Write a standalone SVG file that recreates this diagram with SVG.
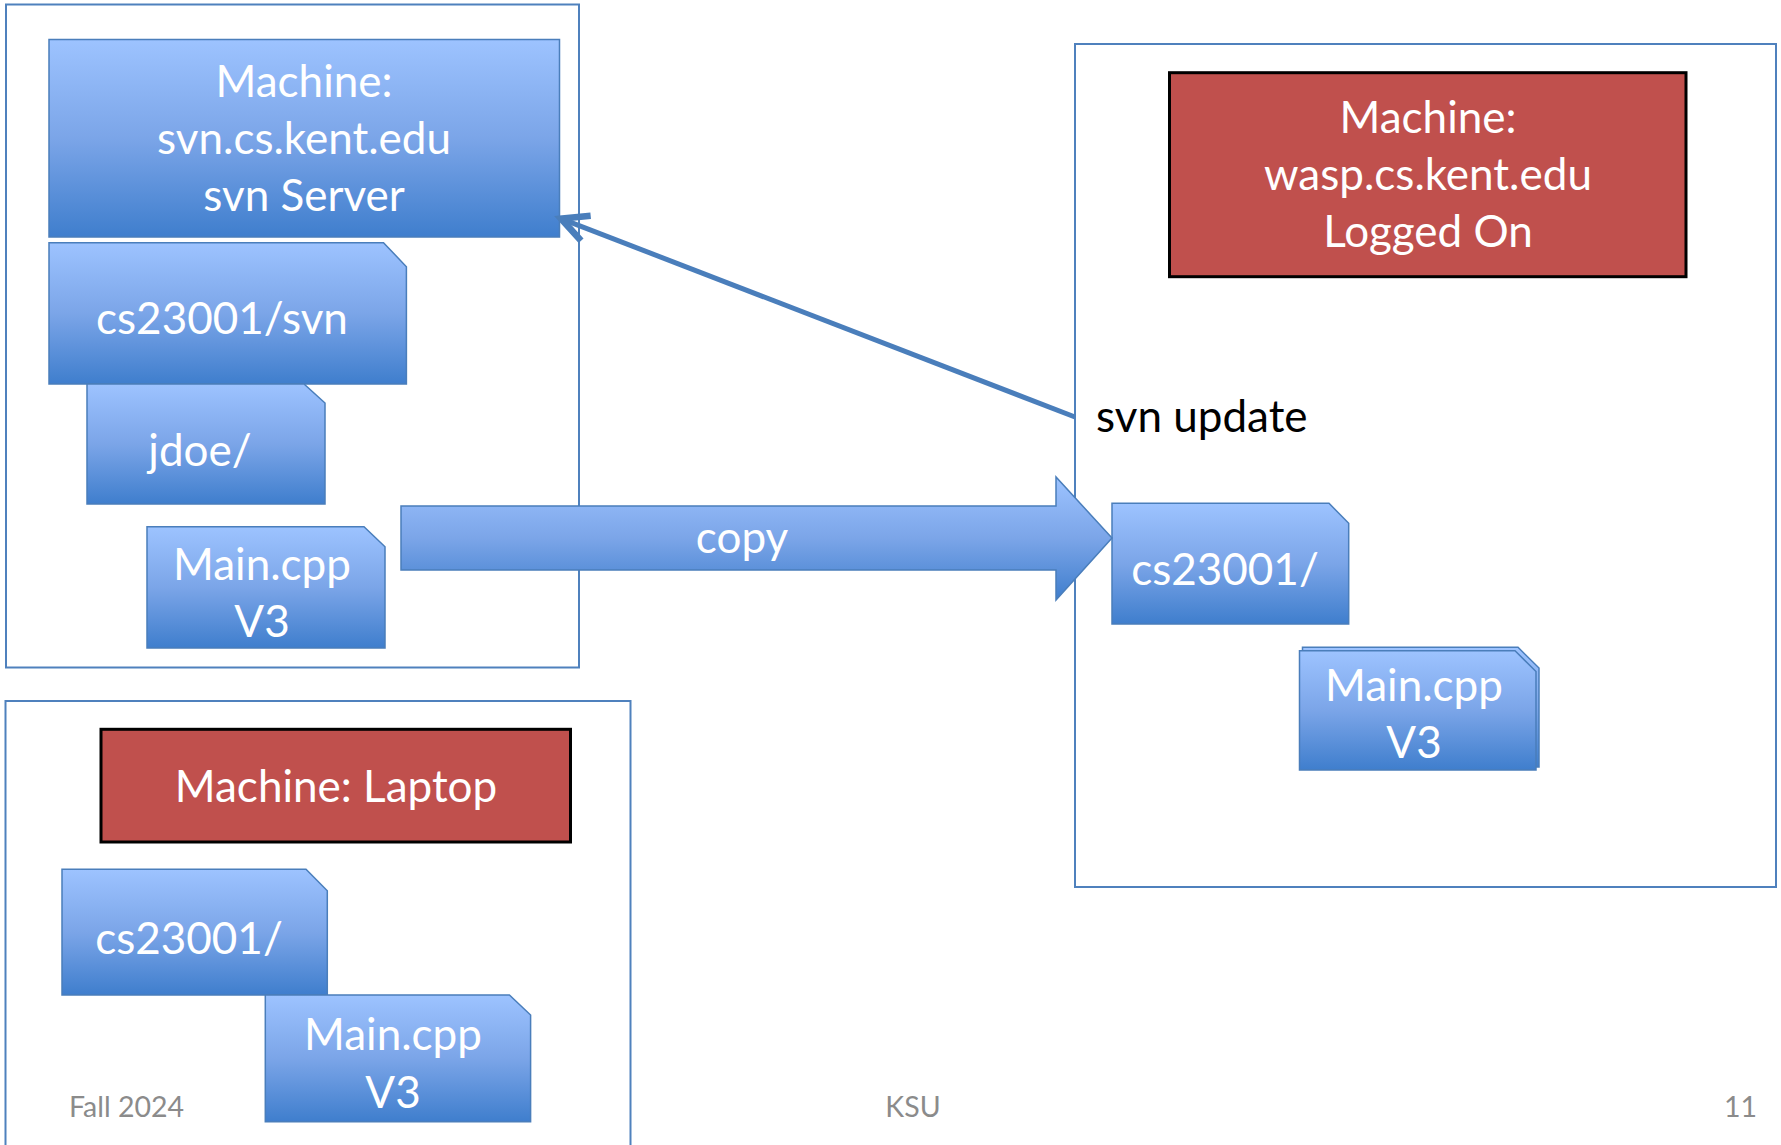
<svg xmlns="http://www.w3.org/2000/svg" width="1781" height="1145" viewBox="0 0 1781 1145">
  <defs>
    <linearGradient id="blue" x1="0" y1="0" x2="0" y2="1">
      <stop offset="0" stop-color="#9DC3FF"/>
      <stop offset="0.5" stop-color="#7BA5E8"/>
      <stop offset="1" stop-color="#3F7ECD"/>
    </linearGradient>
    <marker id="open" markerUnits="userSpaceOnUse" markerWidth="40" markerHeight="40" viewBox="-24 -14 30 28" refX="0" refY="0" orient="auto">
      <path d="M -20 -10 L 0 0 L -20 10" fill="none" stroke="#4A7EBB" stroke-width="5" stroke-linejoin="miter"/>
    </marker>
    <style>
      .frame { fill: none; stroke: #4F81BD; stroke-width: 2; }
      .fold { fill: url(#blue); stroke: #4A7EBB; stroke-width: 1.5; }
      .red { fill: #C0504D; stroke: #000; stroke-width: 3; }
      .lbl { font-family: Lato, "Open Sans", sans-serif; font-size: 44px; fill: #fff; text-anchor: middle; }
      .plain { font-family: Lato, "Open Sans", sans-serif; font-size: 44px; fill: #000; }
      .foot { font-family: Lato, "Open Sans", sans-serif; font-size: 28.5px; fill: #8B8B8B; }
    </style>
  </defs>

  <rect width="1781" height="1145" fill="#fff"/>

  <!-- machine frames -->
  <g id="frame-server"><rect class="frame" x="6" y="4.5" width="573" height="663"/></g>
  <g id="frame-wasp"><rect class="frame" x="1075" y="44" width="701" height="843"/></g>
  <g id="frame-laptop"><rect class="frame" x="5.5" y="701" width="625" height="460"/></g>

  <!-- svn server -->
  <g id="svn-server">
    <rect class="fold" x="49" y="39.5" width="510.5" height="197.5"/>
    <text class="lbl" x="304" y="97">Machine:</text>
    <text class="lbl" x="304" y="154">svn.cs.kent.edu</text>
    <text class="lbl" x="304" y="211">svn Server</text>
  </g>
  <g id="repo">
    <path class="fold" d="M49 242.7 H383.5 L406.4 266.7 V384 H49 Z"/>
    <text class="lbl" x="222" y="334">cs23001/svn</text>
  </g>
  <g id="repo-jdoe">
    <path class="fold" d="M87 384 H304 L325 403 V504 H87 Z"/>
    <text class="lbl" x="200" y="466">jdoe/</text>
  </g>
  <g id="repo-main">
    <path class="fold" d="M147 526.7 H364 L385 546.7 V648 H147 Z"/>
    <text class="lbl" x="262" y="580">Main.cpp</text>
    <text class="lbl" x="262" y="637">V3</text>
  </g>

  <!-- wasp -->
  <g id="wasp">
    <rect class="red" x="1169.5" y="72.7" width="516.5" height="204"/>
    <text class="lbl" x="1428" y="132.7">Machine:</text>
    <text class="lbl" x="1428" y="190">wasp.cs.kent.edu</text>
    <text class="lbl" x="1428" y="247.3">Logged On</text>
  </g>
  <g id="wasp-dir">
    <path class="fold" d="M1112 503.3 H1329 L1348.7 523.3 V624 H1112 Z"/>
    <text class="lbl" x="1225" y="585">cs23001/</text>
  </g>
  <g id="wasp-main">
    <path class="fold" d="M1302.5 647.3 H1518 L1539 668 V767 H1302.5 Z"/>
    <path class="fold" d="M1299.5 650.7 H1515 L1536 671.5 V770 H1299.5 Z"/>
    <text class="lbl" x="1414" y="700.7">Main.cpp</text>
    <text class="lbl" x="1414" y="757.7">V3</text>
  </g>
  <g id="svn-update-label">
    <text class="plain" x="1096" y="431.7">svn update</text>
  </g>

  <!-- laptop -->
  <g id="laptop">
    <rect class="red" x="101" y="729.3" width="469.5" height="112.7"/>
    <text class="lbl" x="336" y="801.7">Machine: Laptop</text>
  </g>
  <g id="laptop-dir">
    <path class="fold" d="M62 869.3 H306 L327.3 890.7 V995 H62 Z"/>
    <text class="lbl" x="189" y="954">cs23001/</text>
  </g>
  <g id="laptop-main">
    <path class="fold" d="M265.3 995 H509.4 L530.6 1015 V1121.7 H265.3 Z"/>
    <text class="lbl" x="393" y="1050">Main.cpp</text>
    <text class="lbl" x="393" y="1107.7">V3</text>
  </g>

  <!-- connectors -->
  <g id="connectors">
    <line x1="1075" y1="417" x2="561" y2="218.6" stroke="#4A7EBB" stroke-width="5" marker-end="url(#open)"/>
    <g id="copy-arrow">
      <path class="fold" d="M401 506 H1056 V477 L1112 538 L1056 600 V570 H401 Z"/>
      <text class="lbl" x="742" y="553">copy</text>
    </g>
  </g>

  <!-- footer -->
  <g id="footer">
    <text class="foot" x="69" y="1116.7">Fall 2024</text>
    <text class="foot" x="913" y="1116.7" text-anchor="middle">KSU</text>
    <text class="foot" x="1757" y="1116.7" text-anchor="end">11</text>
  </g>
</svg>
